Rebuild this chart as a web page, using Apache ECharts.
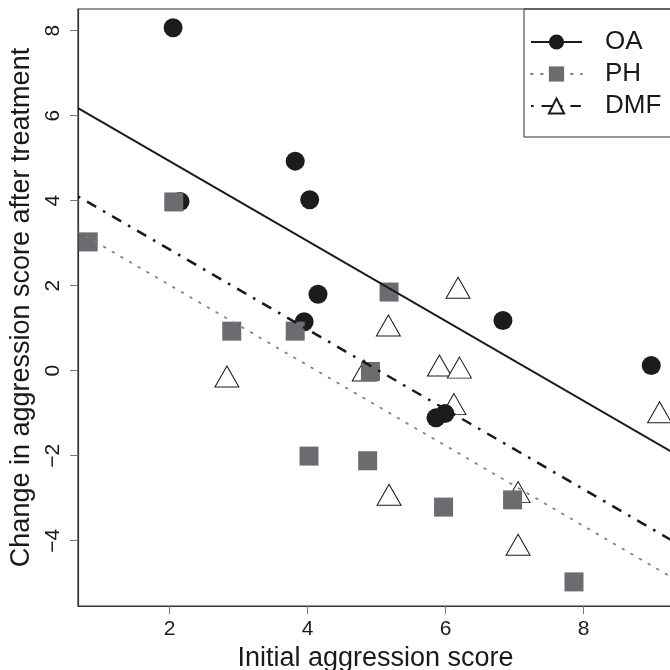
<!DOCTYPE html>
<html>
<head>
<meta charset="utf-8">
<script src="https://cdn.jsdelivr.net/npm/echarts@6/dist/echarts.min.js"></script>
<style>
  html, body { margin: 0; padding: 0; background: #fff; }
  #chart { width: 670px; height: 670px; }
</style>
</head>
<body>
<div id="chart"></div>
<script>
// points: [initial score, change]
const oaPoints = [[2.05, 8.07], [2.15, 3.98], [3.82, 4.93], [4.03, 4.02], [4.15, 1.80],
  [3.95, 1.15], [6.83, 1.18], [5.86, -1.11], [5.99, -1.01], [8.98, 0.12]];
const phPoints = [[0.82, 3.03], [2.06, 3.97], [2.90, 0.93], [3.82, 0.93], [5.18, 1.85],
  [4.02, -2.01], [4.91, -0.02], [4.87, -2.12], [5.97, -3.21], [6.97, -3.04], [7.86, -4.97]];
const dmfPoints = [[2.83, -0.22], [6.18, 1.87], [5.17, 0.98], [4.82, -0.08], [5.91, 0.04],
  [6.20, -0.01], [6.12, -0.87], [9.10, -1.06], [5.18, -3.00], [7.05, -2.94], [7.05, -4.18]];

// fitted lines (end points at the plot edges)
const fitOA = [[0.672, 6.18], [9.295, -1.93]];
const fitPH = [[0.672, 3.27], [9.295, -4.88]];
const fitDMF = [[0.672, 4.10], [9.295, -4.01]];

const xTicks = [2, 4, 6, 8];
const yTicks = [-4, -2, 0, 2, 4, 6, 8];
const groups = ['OA', 'PH', 'DMF'];

const FONT = 'Liberation Sans, Arial, Helvetica, sans-serif';

let chart = echarts.init(document.getElementById('chart'), null, { renderer: 'canvas' });

var option = {
  backgroundColor: '#ffffff',
  animation: false,
  grid: {
    left: 78,
    top: 9,
    right: -3,
    bottom: 64,
    outerBoundsMode: 'none',
    show: true,
    borderColor: '#333333',
    borderWidth: 1.2
  },
  legend: {
    data: groups,
    orient: 'vertical',
    left: 524,
    top: 9,
    padding: [18, 20, 16, 6],
    itemWidth: 51,
    itemHeight: 19,
    itemGap: 2,
    borderColor: '#333333',
    borderWidth: 1,
    selectedMode: false,
    textStyle: {
      fontFamily: FONT,
      fontSize: 26,
      color: '#1a1a1a',
      lineHeight: 30,
      padding: [0, 0, 0, 18]
    }
  },
  xAxis: {
    type: 'value',
    min: 0.672,
    max: 9.295,
    name: 'Initial aggression score',
    nameLocation: 'middle',
    nameGap: 37,
    nameTextStyle: { fontFamily: FONT, fontSize: 27, color: '#1a1a1a' },
    splitLine: { show: false },
    axisLine: { show: true, onZero: false, lineStyle: { color: '#333333', width: 1.2 } },
    axisTick: { show: true, length: 8, customValues: xTicks, lineStyle: { color: '#777777' } },
    axisLabel: {
      customValues: xTicks,
      margin: 13,
      fontFamily: FONT,
      fontSize: 21,
      color: '#1a1a1a'
    }
  },
  yAxis: {
    type: 'value',
    min: -5.537,
    max: 8.51,
    name: 'Change in aggression score after treatment',
    nameLocation: 'middle',
    nameRotate: 90,
    nameGap: 42,
    nameTextStyle: { fontFamily: FONT, fontSize: 27, color: '#1a1a1a' },
    splitLine: { show: false },
    axisLine: { show: true, onZero: false, lineStyle: { color: '#333333', width: 1.2 } },
    axisTick: { show: true, length: 8, customValues: yTicks, lineStyle: { color: '#777777' } },
    axisLabel: {
      customValues: yTicks,
      rotate: 90,
      margin: 14,
      fontFamily: FONT,
      fontSize: 21,
      color: '#1a1a1a',
      formatter: function (v) { return String(v).replace('-', '\u2212'); }
    }
  },
  series: [
    {
      name: 'OA',
      type: 'line',
      data: fitOA,
      symbol: 'circle',
      showSymbol: false,
      silent: true,
      itemStyle: { color: '#1a1a1a', borderWidth: 0 },
      lineStyle: { color: '#1a1a1a', width: 2 }
    },
    {
      name: 'PH',
      type: 'line',
      data: fitPH,
      symbol: 'rect',
      showSymbol: false,
      silent: true,
      itemStyle: { color: '#6b6b70', borderWidth: 0 },
      lineStyle: { color: '#808080', width: 1.8, type: [1.6, 8.4], cap: 'round' }
    },
    {
      name: 'DMF',
      type: 'line',
      data: fitDMF,
      symbol: 'triangle',
      showSymbol: false,
      silent: true,
      itemStyle: { color: '#ffffff', borderColor: '#1a1a1a', borderWidth: 2 },
      lineStyle: { color: '#1a1a1a', width: 2.5, type: [2.6, 7.9, 10.5, 7.9] }
    },
    {
      name: 'DMF',
      type: 'scatter',
      data: dmfPoints,
      symbol: 'triangle',
      symbolSize: [24, 21],
      symbolOffset: [0, -3.5],
      itemStyle: { color: '#ffffff', borderColor: '#1a1a1a', borderWidth: 1, opacity: 1 }
    },
    {
      name: 'OA',
      type: 'scatter',
      data: oaPoints,
      symbol: 'circle',
      symbolSize: 19,
      itemStyle: { color: '#1c1c1c', opacity: 1 }
    },
    {
      name: 'PH',
      type: 'scatter',
      data: phPoints,
      symbol: 'rect',
      symbolSize: 19,
      itemStyle: { color: '#6b6b70', opacity: 1 }
    }
  ]
};

chart.setOption(option);
</script>
</body>
</html>
